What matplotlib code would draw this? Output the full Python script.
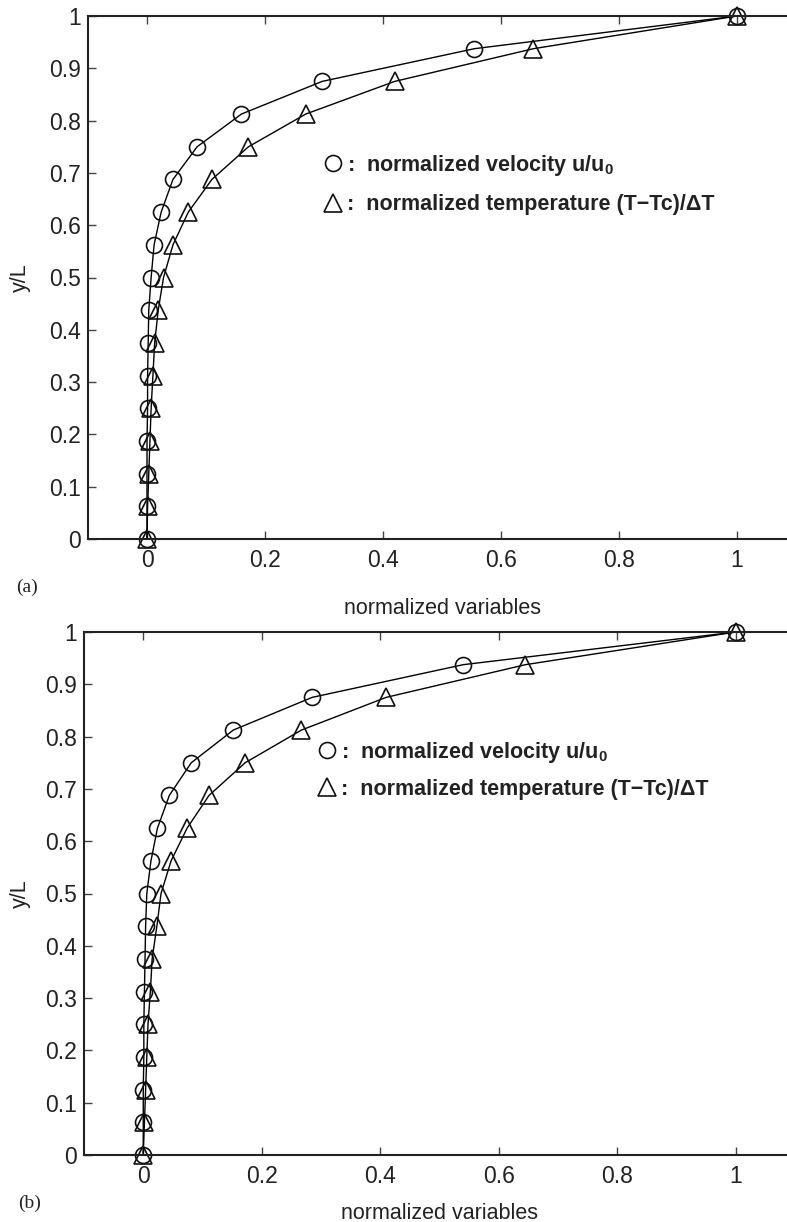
import numpy as np
import matplotlib
matplotlib.use("Agg")
import matplotlib.pyplot as plt
from matplotlib.lines import Line2D

plt.rcParams['font.family'] = ['Liberation Sans', 'DejaVu Sans']
plt.rcParams['mathtext.fontset'] = 'custom'
plt.rcParams['mathtext.rm'] = 'Liberation Sans'
plt.rcParams['mathtext.bf'] = 'Liberation Sans:bold'

## data ##
y_pos = [0, 0.0625, 0.125, 0.1875, 0.25, 0.3125, 0.375, 0.4375, 0.5,
         0.5625, 0.625, 0.6875, 0.75, 0.8125, 0.875, 0.9375, 1.0]

# panel (a)
vel_a = [0, 0, 0, 0, 0.001, 0.001, 0.002, 0.003, 0.007,
         0.012, 0.024, 0.044, 0.085, 0.160, 0.297, 0.555, 1.0]
temp_a = [0, 0.001, 0.003, 0.005, 0.007, 0.010, 0.013, 0.019, 0.028,
          0.044, 0.070, 0.110, 0.172, 0.269, 0.420, 0.655, 1.0]

# panel (b)
vel_b = [0, 0, 0, 0.001, 0.001, 0.002, 0.003, 0.004, 0.006,
         0.013, 0.024, 0.044, 0.081, 0.152, 0.285, 0.540, 1.0]
temp_b = [0, 0.002, 0.004, 0.006, 0.008, 0.012, 0.015, 0.023, 0.030,
          0.047, 0.074, 0.111, 0.172, 0.267, 0.410, 0.645, 1.0]

x_ticks = [0, 0.2, 0.4, 0.6, 0.8, 1.0]
x_ticklabels = ['0', '0.2', '0.4', '0.6', '0.8', '1']
y_ticks = [0, 0.1, 0.2, 0.3, 0.4, 0.5, 0.6, 0.7, 0.8, 0.9, 1.0]
y_ticklabels = ['0', '0.1', '0.2', '0.3', '0.4', '0.5', '0.6', '0.7', '0.8', '0.9', '1']

label_vel = r':  normalized velocity $\mathbf{u/u_0}$'
label_temp = ':  normalized temperature (T\u2212Tc)/\u0394T'

W, H = 787, 1222
fig = plt.figure(figsize=(W / 100, H / 100), dpi=100)


def panel(rect, vel, temp, leg_xy, leg_gap, xlab_y, ylab_x, tag, tag_xy):
    ax = fig.add_axes(rect)
    ms = 11.5
    ax.plot(vel, y_pos, '-', color='black', lw=1.0, marker='o', ms=ms,
            mfc='none', mec='#111111', mew=1.2, clip_on=False)
    ax.plot(temp, y_pos, '-', color='black', lw=1.0, marker='^', ms=ms + 1,
            mfc='none', mec='#111111', mew=1.2, clip_on=False)
    ax.set_xlim(-0.1, 1.1)
    ax.set_ylim(0, 1)
    ax.set_xticks(x_ticks)
    ax.set_xticklabels(x_ticklabels)
    ax.set_yticks(y_ticks)
    ax.set_yticklabels(y_ticklabels)
    ax.tick_params(direction='in', length=6, width=1.0, labelsize=16.5,
                   top=True, right=True, color='#444444', labelcolor='#222222')
    ax.tick_params(axis='x', pad=7)
    ax.tick_params(axis='y', pad=5)
    for s in ax.spines.values():
        s.set_linewidth(1.5)
        s.set_color('#222222')
    ax.set_xlabel('normalized variables', fontsize=15.5, color='#222222')
    ax.xaxis.set_label_coords(0.5, xlab_y)
    ax.set_ylabel('y/L', fontsize=15.5, color='#222222')
    ax.yaxis.set_label_coords(ylab_x, 0.5)

    handles = [Line2D([], [], ls='none', marker='o', ms=ms, mfc='none',
                      mec='#111111', mew=1.2),
               Line2D([], [], ls='none', marker='^', ms=ms + 1, mfc='none',
                      mec='#111111', mew=1.2)]
    leg = ax.legend(handles, [label_vel, label_temp], loc='upper left',
                    bbox_to_anchor=leg_xy, bbox_transform=fig.transFigure,
                    frameon=False, borderpad=0, borderaxespad=0,
                    handlelength=0.8, handletextpad=0.25, labelspacing=leg_gap,
                    prop={'size': 15.5, 'weight': 'bold'})
    for t in leg.get_texts():
        t.set_color('#222222')

    fig.text(tag_xy[0] / W, 1 - tag_xy[1] / H, tag, ha='center', va='center',
             family='Liberation Serif', fontsize=14, color='#222222')
    return ax


panel([88 / W, 1 - 539 / H, 708 / W, 523 / H], vel_a, temp_a,
      (324 / W, 1 - 153 / H), 0.75, -0.112, -0.081, '(a)', (27, 587))
panel([84 / W, 1 - 1155 / H, 711 / W, 523 / H], vel_b, temp_b,
      (318 / W, 1 - 740 / H), 0.65, -0.092, -0.075, '(b)', (30, 1203))

fig.savefig('out.png', dpi=100)
